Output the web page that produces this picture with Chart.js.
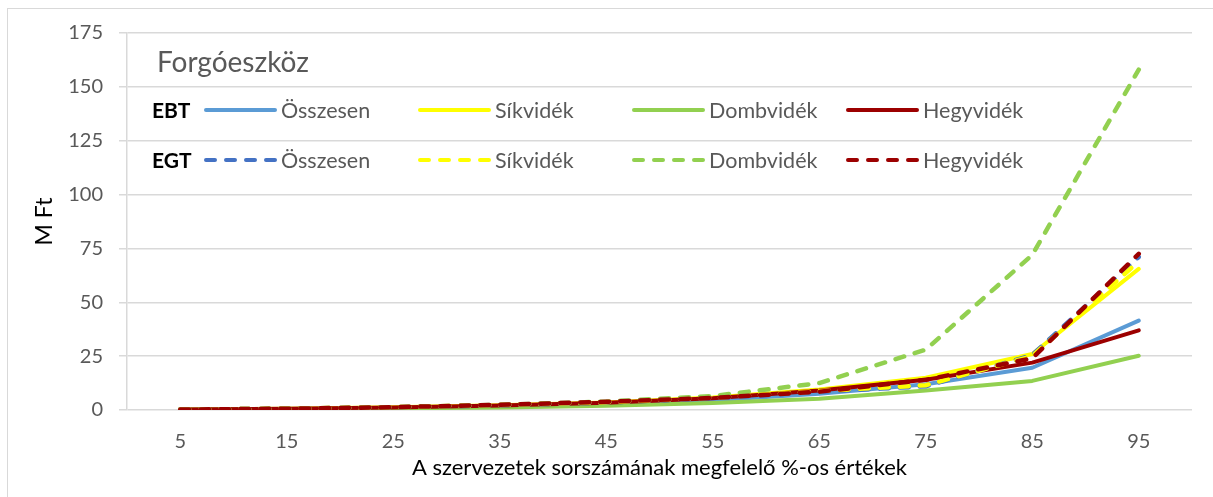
<!DOCTYPE html>
<html lang="hu">
<head>
<meta charset="utf-8">
<title>Forgóeszköz</title>
<script src="https://cdn.jsdelivr.net/npm/chart.js@4.4.1/dist/chart.umd.min.js"></script>
<style>
    html, body { margin: 0; padding: 0; background: #fff; overflow: hidden; }
    #frame {
        position: absolute; left: 7px; top: 8px; width: 1400px; height: 700px;
        border-left: 1px solid #d9d9d9; border-top: 1px solid #d9d9d9;
    }
    #wrap { position: absolute; left: 0; top: 0; width: 1213px; height: 497px; }
</style>
</head>
<body>
<div id="frame"></div>
<div id="wrap"><canvas id="myChart"></canvas></div>
<script>
// percentiles of the organisations
const labels = ['5', '15', '25', '35', '45', '55', '65', '75', '85', '95'];
const regions = ['Összesen', 'Síkvidék', 'Dombvidék', 'Hegyvidék'];

// EBT (solid lines), M Ft
const ebtOsszesen  = [0.2, 0.5, 1.0, 1.7, 2.8, 4.5, 7.5, 12.0, 19.6, 41.5];
const ebtSikvidek  = [0.2, 0.6, 1.3, 2.2, 3.5, 5.8, 9.5, 15.0, 26.0, 65.5];
const ebtDombvidek = [0.1, 0.3, 0.7, 1.2, 2.0, 3.2, 5.2, 9.0, 13.5, 25.2];
const ebtHegyvidek = [0.2, 0.6, 1.2, 2.1, 3.4, 5.5, 9.0, 14.0, 22.0, 37.0];

// EGT (dashed lines), M Ft
const egtOsszesen  = [0.2, 0.6, 1.2, 2.2, 3.5, 5.5, 8.5, 11.0, 25.5, 71.0];
const egtSikvidek  = [0.2, 0.6, 1.3, 2.3, 3.6, 5.7, 8.8, 11.5, 25.0, 69.0];
const egtDombvidek = [0.2, 0.6, 1.3, 2.4, 3.9, 6.5, 12.5, 28.0, 72.0, 158.0];
const egtHegyvidek = [0.2, 0.6, 1.3, 2.4, 3.8, 5.6, 8.5, 14.0, 24.0, 72.5];

const yTicks = [0, 25, 50, 75, 100, 125, 150, 175];

const solidColors  = ['#5b9bd5', '#ffff00', '#92d050', '#9c0000'];
const dashedColors = ['#4472c4', '#ffff00', '#92d050', '#9c0000'];

const font = 'Lato, "Open Sans", sans-serif';
const grey = '#595959';

const makeSet = (label, data, color, dashed, idx) => ({
    label: label,
    data: data,
    borderColor: color,
    backgroundColor: color,
    borderWidth: dashed ? 4.5 : 4,
    borderDash: dashed ? [9, 11] : [],
    borderCapStyle: 'round',
    borderJoinStyle: 'round',
    pointRadius: 0,
    tension: 0,
    fill: false,
    order: 10 - idx,
    group: dashed ? 'EGT' : 'EBT'
});

const datasets = [
    makeSet(regions[0], ebtOsszesen, solidColors[0], false, 0),
    makeSet(regions[1], ebtSikvidek, solidColors[1], false, 1),
    makeSet(regions[2], ebtDombvidek, solidColors[2], false, 2),
    makeSet(regions[3], ebtHegyvidek, solidColors[3], false, 3),
    makeSet(regions[0], egtOsszesen, dashedColors[0], true, 4),
    makeSet(regions[1], egtSikvidek, dashedColors[1], true, 5),
    makeSet(regions[2], egtDombvidek, dashedColors[2], true, 6),
    makeSet(regions[3], egtHegyvidek, dashedColors[3], true, 7)
];

// title and the two-row EBT / EGT legend inside the plot
const insideLegend = {
    id: 'insideLegend',
    afterDatasetsDraw(chart) {
        const ctx = chart.ctx;
        ctx.save();
        ctx.fillStyle = grey;
        ctx.font = '28px ' + font;
        ctx.textBaseline = 'alphabetic';
        ctx.textAlign = 'left';
        ctx.fillText('Forgóeszköz', 157, 72);

        const rows = [
            {tag: 'EBT', y: 110, group: 'EBT'},
            {tag: 'EGT', y: 160, group: 'EGT'}
        ];
        rows.forEach(row => {
            ctx.textBaseline = 'middle';
            ctx.fillStyle = '#000';
            ctx.font = 'bold 21px ' + font;
            ctx.fillText(row.tag, 152, row.y + 1);
            const sets = chart.data.datasets.filter(d => d.group === row.group);
            sets.forEach((ds, k) => {
                const x0 = 206 + 214 * k;
                ctx.beginPath();
                ctx.strokeStyle = ds.borderColor;
                ctx.lineWidth = 4;
                ctx.lineCap = 'round';
                ctx.setLineDash(ds.borderDash);
                ctx.moveTo(x0, row.y);
                ctx.lineTo(x0 + 69, row.y);
                ctx.stroke();
                ctx.setLineDash([]);
                ctx.fillStyle = grey;
                ctx.font = '21.5px ' + font;
                ctx.fillText(ds.label, x0 + 75, row.y + 1);
            });
        });
        ctx.restore();
    }
};

const ctx = document.getElementById('myChart').getContext('2d');
const chart = new Chart(ctx, {
    type: 'line',
    data: {
        labels: labels,
        datasets: datasets
    },
    options: {
        responsive: true,
        maintainAspectRatio: false,
        animation: false,
        layout: {padding: {top: 33, right: 21, left: 0, bottom: 0}},
        plugins: {
            legend: {display: false},
            tooltip: {enabled: false}
        },
        scales: {
            x: {
                offset: true,
                grid: {display: false, drawTicks: false},
                border: {display: false},
                ticks: {color: grey, font: {family: font, size: 20}, padding: 20},
                title: {
                    display: true,
                    text: 'A szervezetek sorszámának megfelelő %-os értékek',
                    color: '#000',
                    font: {family: font, size: 22},
                    padding: {top: 0, bottom: 16}
                },
                afterFit: scale => { scale.height = 87; }
            },
            y: {
                min: 0,
                max: 175,
                afterBuildTicks: scale => {
                    scale.ticks = yTicks.map(v => ({value: v}));
                },
                grid: {color: '#d9d9d9', lineWidth: 1.5, tickLength: 8, tickColor: '#d9d9d9'},
                border: {display: true, color: '#d9d9d9', width: 1.5},
                ticks: {color: grey, font: {family: font, size: 20}, padding: 16},
                title: {
                    display: true,
                    text: 'M Ft',
                    color: '#000',
                    font: {family: font, size: 23},
                    padding: {top: 31, bottom: 0}
                },
                afterFit: scale => { scale.width = 127; }
            }
        }
    },
    plugins: [insideLegend]
});
</script>
</body>
</html>
